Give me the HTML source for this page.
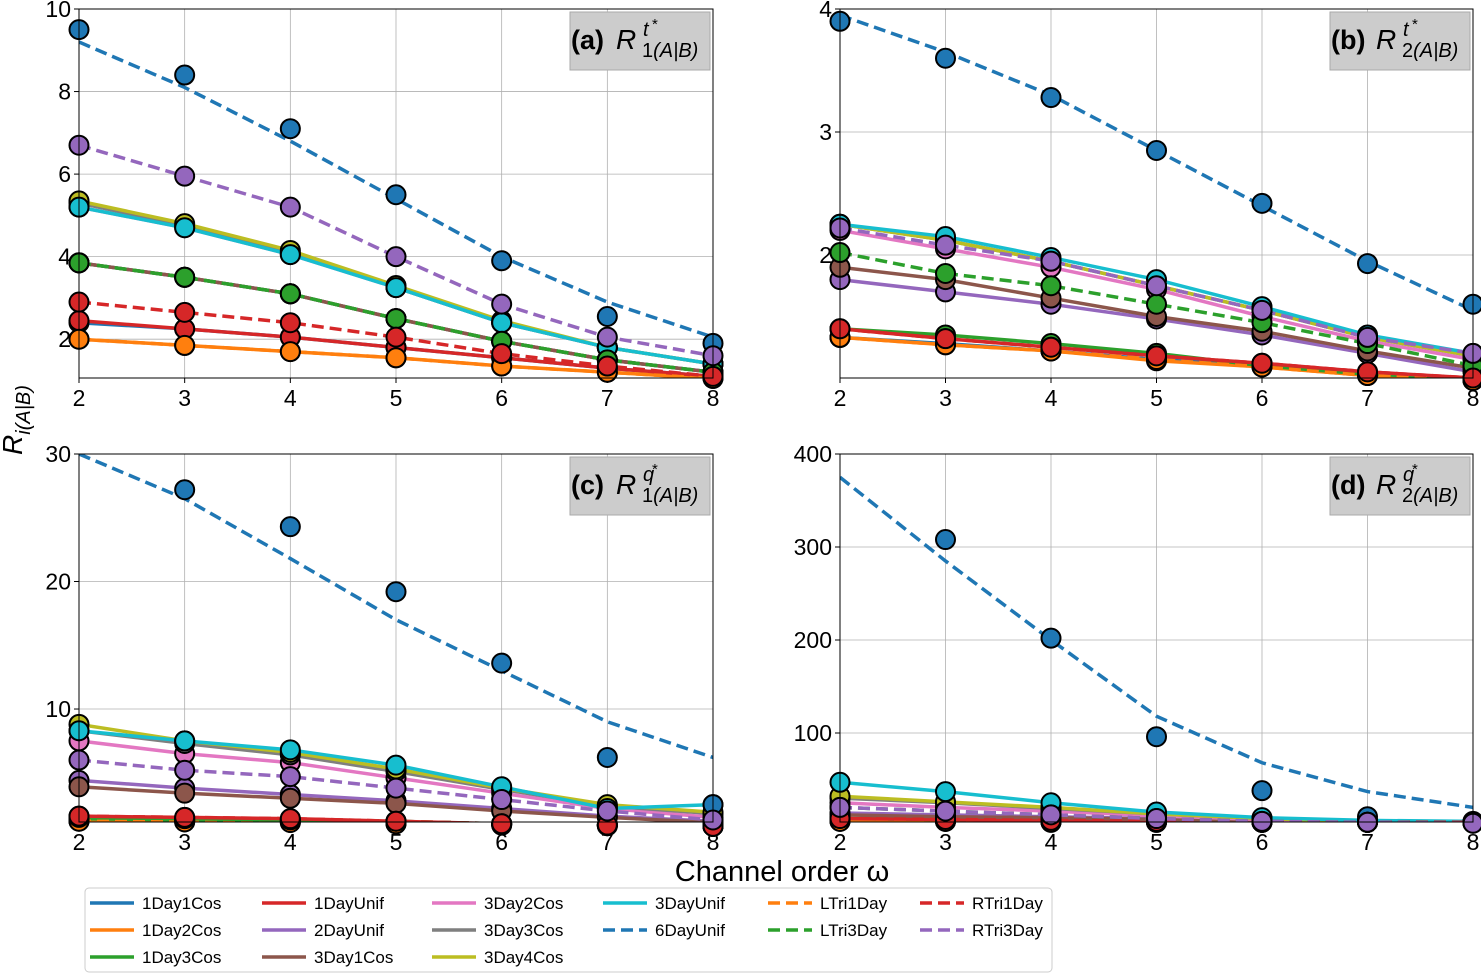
<!DOCTYPE html>
<html><head><meta charset="utf-8"><style>
body{margin:0;background:#fff;}
svg{font-family:"Liberation Sans","DejaVu Sans",sans-serif;}
</style></head><body>
<svg id="chart" width="1481" height="974"></svg>
<script>
const xs=[2,3,4,5,6,7,8];
const seriesNames=["1Day1Cos","1Day2Cos","1Day3Cos","1DayUnif","2DayUnif","3Day1Cos","3Day2Cos","3Day3Cos","3Day4Cos","3DayUnif","6DayUnif","LTri1Day","LTri3Day","RTri1Day","RTri3Day"];
const seriesColors=["#1f77b4","#ff7f0e","#2ca02c","#d62728","#9467bd","#8c564b","#e377c2","#7f7f7f","#bcbd22","#17becf","#1f77b4","#ff7f0e","#2ca02c","#d62728","#9467bd"];
const seriesDashed=[0,0,0,0,0,0,0,0,0,0,1,1,1,1,1];
// panel a
const aVals=[
[2.4,2.25,2.05,1.8,1.55,1.3,1.1],[2.0,1.85,1.7,1.55,1.35,1.2,1.05],[3.85,3.5,3.1,2.5,1.95,1.5,1.2],
[2.45,2.25,2.05,1.8,1.55,1.3,1.1],[3.85,3.5,3.1,2.5,1.95,1.5,1.2],[3.85,3.5,3.1,2.5,1.95,1.5,1.2],
[5.2,4.7,4.05,3.25,2.4,1.8,1.4],[5.3,4.75,4.1,3.25,2.4,1.8,1.4],[5.35,4.8,4.15,3.3,2.45,1.8,1.4],
[5.2,4.7,4.05,3.25,2.4,1.8,1.4],[9.5,8.4,7.1,5.5,3.9,2.55,1.9],[2.0,1.85,1.7,1.55,1.35,1.2,1.05],
[3.85,3.5,3.1,2.5,1.95,1.5,1.2],[2.9,2.65,2.4,2.05,1.65,1.35,1.1],[6.7,5.95,5.2,4.0,2.85,2.05,1.6]];
const a6Fit=[9.2,8.1,6.8,5.4,4.0,2.9,2.05];
// panel b
const bVals=[
[1.33,1.28,1.22,1.15,1.1,1.03,0.98],[1.33,1.27,1.22,1.14,1.09,1.02,0.98],[1.4,1.35,1.28,1.2,1.1,1.03,1.0],
[1.4,1.32,1.25,1.18,1.12,1.05,1.0],[1.8,1.7,1.6,1.48,1.35,1.2,1.05],[1.9,1.8,1.65,1.5,1.38,1.22,1.08],
[2.2,2.05,1.9,1.72,1.5,1.3,1.15],[2.25,2.12,1.95,1.75,1.55,1.33,1.18],[2.25,2.12,1.95,1.75,1.55,1.33,1.18],
[2.25,2.15,1.98,1.8,1.58,1.35,1.2],[3.9,3.6,3.28,2.85,2.42,1.93,1.6],[1.33,1.27,1.22,1.15,1.09,1.02,0.98],
[2.02,1.85,1.75,1.6,1.45,1.28,1.1],[1.4,1.32,1.25,1.18,1.12,1.05,1.0],[2.22,2.08,1.95,1.75,1.55,1.33,1.2]];
const b6Fit=[3.95,3.65,3.3,2.85,2.4,1.95,1.55];
// panel c
const cVals=[
[1.3,1.25,1.2,1.1,1.0,0.9,0.8],[1.2,1.15,1.1,1.0,0.9,0.85,0.8],[1.4,1.3,1.25,1.1,1.0,0.9,0.8],
[1.6,1.5,1.4,1.2,1.0,0.9,0.8],[4.4,3.8,3.3,2.8,2.2,1.6,1.2],[3.9,3.4,3.0,2.6,2.0,1.5,1.1],
[7.5,6.5,5.8,4.6,3.4,2.2,1.5],[8.3,7.3,6.4,5.1,3.7,2.4,1.8],[8.8,7.5,6.6,5.3,3.8,2.5,1.9],
[8.3,7.5,6.8,5.6,3.9,2.2,2.5],[null,27.2,24.3,19.2,13.6,6.2,2.5],[1.2,1.15,1.1,1.0,0.9,0.85,0.8],
[1.5,1.4,1.3,1.2,1.0,0.9,0.8],[1.6,1.5,1.4,1.2,1.0,0.9,0.8],[6.0,5.2,4.7,3.8,2.9,2.0,1.3]];
const c6Fit=[30,26.5,21.8,17,13,9,6.2];
// panel d
const dVals=[
[6,5,5,4,4,4,4],[5,5,4,4,4,4,4],[8,7,6,5,4,4,4],
[8,7,6,5,4,4,4],[14,12,10,8,5,4,4],[12,10,9,7,5,4,4],
[25,20,16,11,7,5,4],[30,25,19,13,8,5,4],[32,26,20,13,8,5,4],
[47,37,25,15,9,6,5],[null,308,202,96,38,10,4],[5,5,4,4,4,4,4],
[20,16,12,8,5,4,3],[8,7,6,5,4,4,4],[20,16,12,8,5,4,3]];
const d6Fit=[375,285,200,118,68,37,20];

const panels=[
{id:"a",vals:aVals,fit:a6Fit,x0:79,x1:713,y0:9,y1:378,ymin:1.06,ymax:10,ticks:[2,4,6,8,10],lab:"(a)",q:"t",i:"1",bx:570},
{id:"b",vals:bVals,fit:b6Fit,x0:840,x1:1473,y0:9,y1:378,ymin:1.0,ymax:4,ticks:[2,3,4],lab:"(b)",q:"t",i:"2",bx:1330},
{id:"c",vals:cVals,fit:c6Fit,x0:79,x1:713,y0:454,y1:822,ymin:1.14,ymax:30,ticks:[10,20,30],lab:"(c)",q:"q",i:"1",bx:570},
{id:"d",vals:dVals,fit:d6Fit,x0:840,x1:1473,y0:454,y1:822,ymin:4.3,ymax:400,ticks:[100,200,300,400],lab:"(d)",q:"q",i:"2",bx:1330}];
const NS="http://www.w3.org/2000/svg";
const svg=document.getElementById("chart");
function mk(tag,attrs,parent){const e=document.createElementNS(NS,tag);for(const k in attrs)e.setAttribute(k,attrs[k]);(parent||svg).appendChild(e);return e;}
function txt(s,attrs,parent){const t=mk("text",attrs,parent);t.textContent=s;return t;}
panels.forEach(p=>{
 const g=mk("g",{});
 
 
 const sx=v=>p.x0+(v-2)/6*(p.x1-p.x0);
 const sy=v=>p.y1-(v-p.ymin)/(p.ymax-p.ymin)*(p.y1-p.y0);
 const cid="clip"+p.id;
 const cp=mk("clipPath",{id:cid},g);mk("rect",{x:p.x0,y:p.y0,width:p.x1-p.x0,height:p.y1-p.y0},cp);
 xs.forEach(x=>{mk("line",{x1:sx(x),x2:sx(x),y1:p.y0,y2:p.y1,stroke:"#b0b0b0","stroke-width":0.8},g);
  txt(x,{x:sx(x),y:p.y1+28,"text-anchor":"middle","font-size":23},g);
  mk("line",{x1:sx(x),x2:sx(x),y1:p.y1,y2:p.y1+5,stroke:"#000"},g);});
 p.ticks.forEach(v=>{const y=sy(v);mk("line",{x1:p.x0,x2:p.x1,y1:y,y2:y,stroke:"#b0b0b0","stroke-width":0.8},g);
  mk("line",{x1:p.x0-5,x2:p.x0,y1:y,y2:y,stroke:"#000"},g);
  txt(v,{x:p.x0-8,y:y+8,"text-anchor":"end","font-size":23},g);});
 const dg=mk("g",{"clip-path":"url(#"+cid+")"},g);
 p.vals.forEach((vals,si)=>{
  const src=si===10?p.fit:vals;
  const pts=xs.map((x,k)=>src[k]==null?null:sx(x)+","+sy(src[k])).filter(s=>s).join(" ");
  const l=mk("polyline",{points:pts,fill:"none",stroke:seriesColors[si],"stroke-width":3.5,"stroke-dasharray":seriesDashed[si]?"12,6":"none"},dg);
  
  
 });
 p.vals.forEach((vals,si)=>{
  vals.forEach((v,k)=>{if(v==null)return;
   const c=mk("circle",{cx:sx(xs[k]),cy:sy(v),r:9.5,fill:seriesColors[si],stroke:"#000","stroke-width":2},g);
   
   
  });});
 mk("rect",{x:p.x0,y:p.y0,width:p.x1-p.x0,height:p.y1-p.y0,fill:"none",stroke:"#000","stroke-width":1},g);
 const tb=mk("g",{},g);
 
 
 mk("rect",{x:p.bx,y:p.y0+3,width:140,height:58,fill:"#cccccc",stroke:"#aaa"},tb);
 const by=p.y0+40;
 txt(p.lab,{x:p.bx+1,y:by,"font-size":27,"font-weight":"bold"},tb);
 txt("R",{x:p.bx+46,y:by,"font-size":28,"font-style":"italic"},tb);
 txt(p.q,{x:p.bx+73,y:by-13,"font-size":20,"font-style":"italic"},tb);
 txt("*",{x:p.bx+82,y:by-20,"font-size":15},tb);
 const s=mk("text",{x:p.bx+72,y:by+8,"font-size":20},tb);
 s.innerHTML=p.i+'<tspan font-style="italic">(A|B)</tspan>';
});
const yl=mk("text",{x:0,y:0,"font-size":28,transform:"translate(22,420) rotate(-90)","text-anchor":"middle"});
yl.innerHTML='<tspan font-style="italic">R</tspan><tspan font-style="italic" font-size="20" dy="8">i(A|B)</tspan>';

const xl=txt("Channel order ω",{x:782,y:881,"font-size":29,"text-anchor":"middle"});

const lg=mk("g",{});

mk("rect",{x:85,y:888,width:967,height:84,rx:4,fill:"#fff",stroke:"#ccc"},lg);
const colX=[90,262,432,603,768,920];
const layout=[[0,0],[0,1],[0,2],[1,0],[1,1],[1,2],[2,0],[2,1],[2,2],[3,0],[3,1],[4,0],[4,1],[5,0],[5,1]];
seriesNames.forEach((n,si)=>{const [c,r]=layout[si];const x=colX[c],y=903+r*27;
 const e=mk("g",{},lg);
 
 mk("line",{x1:x,x2:x+44,y1:y,y2:y,stroke:seriesColors[si],"stroke-width":3.5,"stroke-dasharray":seriesDashed[si]?"12,6":"none"},e);
 txt(n,{x:x+52,y:y+6,"font-size":17},e);});
</script>
</body></html>
